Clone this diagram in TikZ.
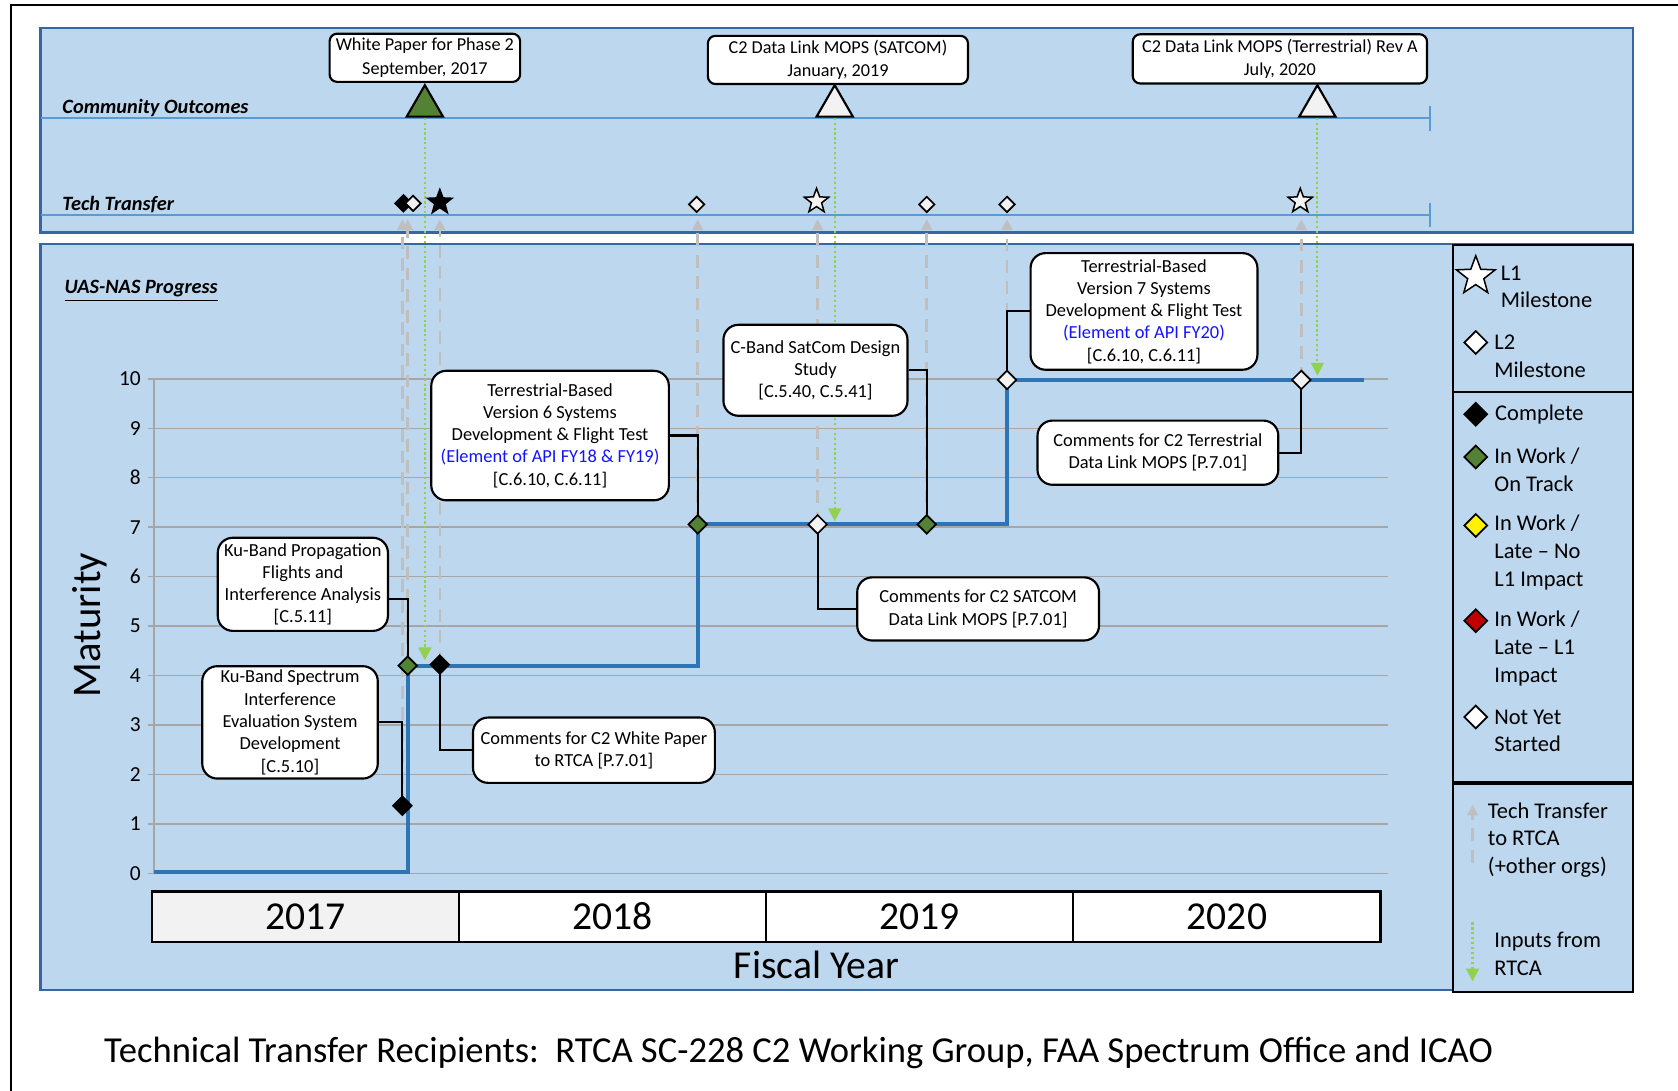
\documentclass[tikz,border=0pt]{standalone}
\usepackage{fontspec}
\setmainfont{Carlito}
\usepackage{tikz}
\usetikzlibrary{arrows.meta,shapes,positioning}
\definecolor{panelfill}{RGB}{189,215,238}
\definecolor{paneledge}{RGB}{52,103,163}
\definecolor{rowblue}{RGB}{91,155,213}
\definecolor{stepblue}{RGB}{46,117,182}
\definecolor{ontrack}{RGB}{84,130,53}
\definecolor{xfergray}{RGB}{191,191,191}
\definecolor{feedgreen}{RGB}{146,208,80}
\definecolor{gridgray}{RGB}{166,166,166}
\definecolor{apiblue}{RGB}{20,20,255}
\definecolor{cellgray}{RGB}{242,242,242}
\definecolor{latered}{RGB}{192,0,0}
\tikzset{
    panel/.style={draw=paneledge, line width=1.2pt, fill=panelfill},
    row line/.style={draw=rowblue, line width=0.8pt},
    row label/.style={font=\fontsize{9.5}{11}\selectfont\bfseries\itshape, anchor=west, inner sep=0pt},
    note box/.style={rectangle, draw, line width=1pt, fill=white, align=center, inner sep=1pt, font=\fontsize{8.6}{10.4}\selectfont},
    top note/.style={note box, rounded corners=3.5pt, font=\fontsize{8.5}{11}\selectfont},
    chart note/.style={note box, rounded corners=7pt},
    gem/.style={diamond, draw, line width=0.8pt, inner sep=0pt, minimum size=9pt},
    gem done/.style={gem, fill=black},
    gem track/.style={gem, fill=ontrack},
    gem open/.style={gem, fill=cellgray},
    l1 star/.style={star, star points=5, star point ratio=2.4, draw, line width=0.7pt, inner sep=0pt, minimum size=12pt},
    outcome/.style={regular polygon, regular polygon sides=3, draw, line width=1pt, inner sep=0pt, minimum size=19.6pt, anchor=south},
    progress/.style={draw=stepblue, line width=1.8pt},
    link/.style={draw, line width=1pt},
    xfer/.style={draw=xfergray, line width=1.2pt, dash pattern=on 6pt off 4pt, -{Triangle[width=5pt,length=5pt]}},
    feed/.style={draw=feedgreen, line width=1pt, dash pattern=on 1pt off 1.3pt, -{Triangle[width=6pt,length=6pt]}},
    legtext/.style={font=\fontsize{10.5}{13}\selectfont, align=left, anchor=west, inner sep=1pt},
    year cell/.style={draw, line width=1pt, outer sep=0pt, minimum width=143.5pt, minimum height=23.5pt, font=\fontsize{18.5}{20}\selectfont, inner sep=0pt}
}

\begin{document}
\begin{tikzpicture}[x=0.5pt, y=-0.5pt, node distance=2pt]
	\useasboundingbox (0,0) rectangle (1568,1019);
	\fill[white] (0,0) rectangle (1568,1019);
	\draw[line width=1pt] (10,1019) -- (10,5) -- (1568,5);

	\draw[panel] (38,26) rectangle (1526,217);
	\draw[panel] (38,228) rectangle (1526,925);

	\draw[row line] (38,110) -- (1336,110);
	\draw[row line] (1336,99) -- (1336,122);
	\draw[row line] (38,201) -- (1336,201);
	\draw[row line] (1336,190) -- (1336,212);
	\node[row label] (colab) at (58,101) {Community Outcomes};
	\node[row label] (ttlab) at (58,191) {Tech Transfer};
	\node[row label] (uaslab) at (60,272) {\underline{UAS-NAS Progress}};

	% maturity grid
	\foreach \v in {0,...,10} {
		\draw[gridgray, line width=0.7pt] (138,{816-46.2*\v}) -- (1297,{816-46.2*\v});
		\node[anchor=east, font=\fontsize{10}{12}\selectfont, inner sep=0pt] (tick\v) at (132,{816-46.2*\v}) {\v};
	}
	\draw[gridgray, line width=0.7pt] (144,354) -- (144,816);
	\node[rotate=90, font=\fontsize{19}{20}\selectfont] (maturity) at (84,584) {Maturity};

	\node[year cell, fill=cellgray] (fy17) at (285.5,856.5) {2017};
	\node[year cell, fill=white, right=0pt of fy17] (fy18) {2018};
	\node[year cell, fill=white, right=0pt of fy18] (fy19) {2019};
	\node[year cell, fill=white, right=0pt of fy19] (fy20) {2020};
	\node[font=\fontsize{18.5}{20}\selectfont] (fyear) at (763,902) {Fiscal Year};

	% legend frame
	\draw[line width=1pt, fill=panelfill] (1358,229) rectangle (1526,927);
	\draw[line width=0.8pt] (1358,366) -- (1526,366);
	\draw[line width=1.8pt] (1358,732) -- (1526,732);

	\coordinate (m1) at (376,753);
	\coordinate (m2) at (381,622);
	\coordinate (m3) at (411,621);
	\coordinate (m4) at (652,490);
	\coordinate (m5) at (764,490);
	\coordinate (m6) at (866,490);
	\coordinate (m7) at (941,355);
	\coordinate (m8) at (1216,355);
	\coordinate (ttrow) at (0,205);
	\coordinate (stepend) at (1275,355);

	\draw[progress] (144,815) -| (m2) -| (m4) -- (m6) -| (m7) -- (m8) -- (stepend);

	\foreach \m in {1,...,8}
		\draw[xfer] (m\m) -- (m\m |- ttrow);

	% community outcomes
	\node[outcome, fill=ontrack] (co1) at (397,110) {};
	\node[outcome, fill=cellgray] (co2) at (780,110) {};
	\node[outcome, fill=cellgray] (co3) at (1231,110) {};
	\node[top note, minimum width=89pt, minimum height=22.5pt] (wp) at (397,54) {White Paper for Phase 2\\September, 2017};
	\node[top note, minimum width=121.5pt, minimum height=22.5pt] (sat) at (783,56) {C2 Data Link MOPS (SATCOM)\\January, 2019};
	\node[top note, minimum width=137.5pt, minimum height=23pt] (ter) at (1196,55) {C2 Data Link MOPS (Terrestrial) Rev A\\July, 2020};

	\coordinate (in1) at (397,617);
	\coordinate (in2) at (780,487);
	\coordinate (in3) at (1231,351);
	\draw[feed] (co1.south) -- (in1);
	\draw[feed] (co2.south) -- (in2);
	\draw[feed] (co3.south) -- (in3);

	% tech transfer row
	\node[gem done, minimum size=8pt] (tt1) at (377,190) {};
	\node[gem open, minimum size=7.5pt] (tt2) at (386,190) {};
	\node[l1 star, fill=black] (tt3) at (411,189) {};
	\node[gem open, minimum size=7.5pt] (tt4) at (651,191) {};
	\node[l1 star, fill=cellgray] (tt5) at (763,188) {};
	\node[gem open, minimum size=7.5pt] (tt6) at (866,191) {};
	\node[gem open, minimum size=7.5pt] (tt7) at (941,191) {};
	\node[l1 star, fill=cellgray] (tt8) at (1215,188) {};

	% progress notes
	\node[chart note, minimum width=79.5pt, minimum height=43.5pt] (kuprop) at (283,546) {Ku-Band Propagation\\Flights and\\Interference Analysis\\{[C.5.11]}};
	\node[chart note, minimum width=82pt, minimum height=52.5pt] (kuspec) at (271,675) {Ku-Band Spectrum\\Interference\\Evaluation System\\Development\\{[C.5.10]}};
	\node[chart note, minimum width=113pt, minimum height=30.5pt] (wpcom) at (555,701) {Comments for C2 White Paper\\to RTCA [P.7.01]};
	\node[chart note, minimum width=111pt, minimum height=60.5pt] (tv6) at (514,407) {Terrestrial-Based\\Version 6 Systems\\Development \& Flight Test\\\textcolor{apiblue}{(Element of API FY18 \& FY19)}\\{[C.6.10, C.6.11]}};
	\node[chart note, minimum width=86pt, minimum height=42.5pt] (cband) at (762,346) {C-Band SatCom Design\\Study\\{[C.5.40, C.5.41]}};
	\node[chart note, minimum width=113pt, minimum height=29.5pt] (satcom) at (914,569) {Comments for C2 SATCOM\\Data Link MOPS [P.7.01]};
	\node[chart note, minimum width=106pt, minimum height=54.5pt] (tv7) at (1069,291) {Terrestrial-Based\\Version 7 Systems\\Development \& Flight Test\\\textcolor{apiblue}{(Element of API FY20)}\\{[C.6.10, C.6.11]}};
	\node[chart note, minimum width=112.5pt, minimum height=30pt] (tercom) at (1082,423) {Comments for C2 Terrestrial\\Data Link MOPS [P.7.01]};

	\draw[link] (kuspec.east) -| (m1);
	\draw[link] ([yshift=-7pt]kuprop.east) -| (m2);
	\draw[link] (m3) |- (wpcom.west);
	\draw[link] (tv6.east) -| (m4);
	\draw[link] (m5) |- (satcom.west);
	\draw[link] (cband.east) -| (m6);
	\draw[link] (m7) |- (tv7.west);
	\draw[link] (m8) |- (tercom.east);

	\node[gem done] (g1) at (m1) {};
	\node[gem track] (g2) at (m2) {};
	\node[gem done] (g3) at (m3) {};
	\node[gem track] (g4) at (m4) {};
	\node[gem open] (g5) at (m5) {};
	\node[gem track] (g6) at (m6) {};
	\node[gem open] (g7) at (m7) {};
	\node[gem open] (g8) at (m8) {};

	% legend
	\node[l1 star, fill=white, minimum size=19pt] (lgl1) at (1379,258) {};
	\node[legtext] (lgl1t) at (1400,268) {L1\\Milestone};
	\node[gem, fill=white, minimum size=11pt] (lgl2) at (1379,320) {};
	\node[legtext] (lgl2t) at (1394,333) {L2\\Milestone};
	\node[gem done, minimum size=11pt] (lgdone) at (1379,387) {};
	\node[legtext, right=of lgdone] (lgdonet) {Complete};
	\node[gem track, minimum size=11pt] (lgtrack) at (1379,427) {};
	\node[legtext] (lgtrackt) at (1394,439) {In Work /\\On Track};
	\node[gem, fill=yellow, minimum size=11pt] (lglate) at (1379,491) {};
	\node[legtext] (lglatet) at (1394,516) {In Work /\\Late -- No\\L1 Impact};
	\node[gem, fill=latered, minimum size=11pt] (lgred) at (1379,580) {};
	\node[legtext] (lgredt) at (1394,606) {In Work /\\Late -- L1\\Impact};
	\node[gem, fill=white, minimum size=11pt] (lgopen) at (1379,670) {};
	\node[legtext] (lgopent) at (1394,683) {Not Yet\\Started};
	\coordinate (lgx0) at (1376,806);
	\coordinate (lgx1) at (1376,752);
	\draw[xfer] (lgx0) -- (lgx1);
	\node[legtext] (lgxt) at (1388,785) {Tech Transfer\\to RTCA\\(+other orgs)};
	\coordinate (lgf0) at (1376,862);
	\coordinate (lgf1) at (1376,917);
	\draw[feed] (lgf0) -- (lgf1);
	\node[legtext] (lgft) at (1394,891) {Inputs from\\RTCA};

	\node[anchor=west, inner sep=0pt, font=\fontsize{17.1}{20}\selectfont] (recip) at (97,984) {Technical Transfer Recipients:\ \ RTCA SC-228 C2 Working Group, FAA Spectrum Office and ICAO};
\end{tikzpicture}
\end{document}
